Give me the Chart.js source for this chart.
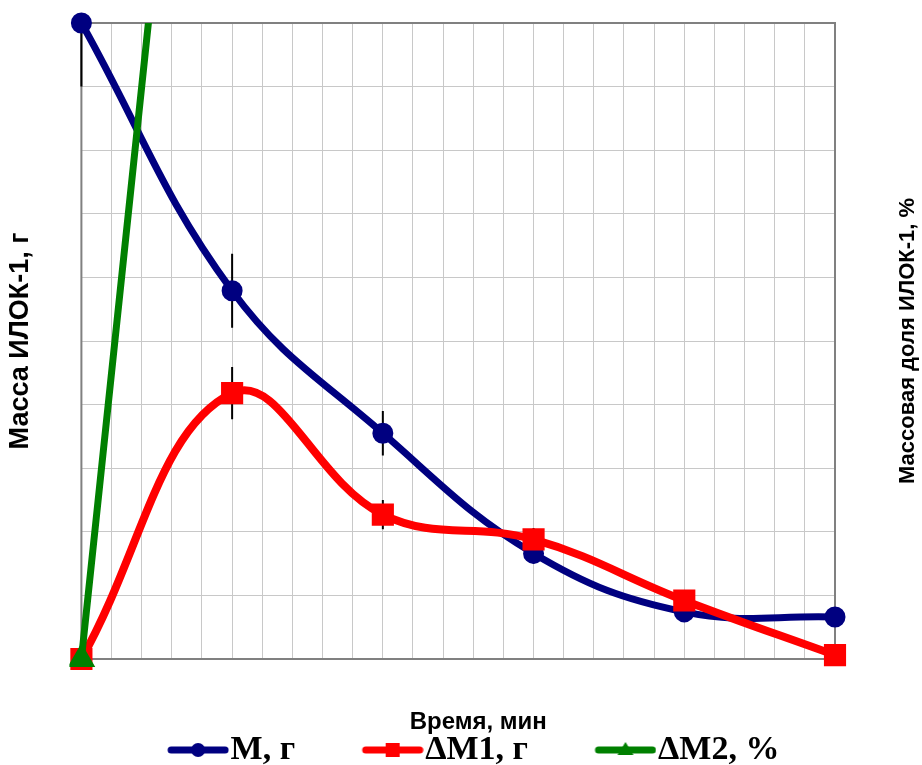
<!DOCTYPE html>
<html>
<head>
<meta charset="utf-8">
<script src="https://cdn.jsdelivr.net/npm/chart.js@4"></script>
<style>
  html, body { margin: 0; padding: 0; background: #fff; }
  #wrap { width: 922px; height: 765px; }
</style>
</head>
<body>
<div id="wrap"><canvas id="massChart" width="922" height="765"></canvas></div>
<script>
// время, мин (подписей на оси нет)
const timeMin = [0, 5, 10, 15, 20, 25];
// масса ИЛОК-1, г
const massM = [10, 5.79, 3.55, 1.66, 0.74, 0.66];
const deltaM1 = [0, 4.18, 2.27, 1.88, 0.92, 0.06];
// массовая доля, % (правая ось)
const deltaM2 = [0, 22.5, 40, 55, 65, 70];
// погрешности
const errM = [1.0, 0.58, 0.35, 0.16, 0, 0];
const errM1 = [0, 0.41, 0.23, 0.18, 0, 0];

const seriesNames = ["М, г", "ΔМ1, г", "ΔМ2, %"];
const seriesColors = ["#000080", "#ff0000", "#008000"];
const markerStyles = ["circle", "rect", "triangle"];

const toPoints = (ys) => ys.map((v, i) => ({x: timeMin[i], y: v}));

// картинки для легенды: линия + маркер
function legendIcon(color, style) {
    const c = document.createElement("canvas");
    c.width = 140; c.height = 22;
    const g = c.getContext("2d");
    g.strokeStyle = color; g.fillStyle = color;
    g.lineWidth = 7; g.lineCap = "round";
    g.beginPath(); g.moveTo(82, 11); g.lineTo(136, 11); g.stroke();
    g.beginPath();
    if (style === "circle") g.arc(109, 11, 7, 0, Math.PI * 2);
    else if (style === "rect") g.rect(102, 4, 14, 14);
    else { g.moveTo(109, 3); g.lineTo(117, 16); g.lineTo(101, 16); g.closePath(); }
    g.fill();
    return c;
}
const icons = seriesColors.map((c, i) => legendIcon(c, markerStyles[i]));

const errorBars = {
    id: "errorBars",
    beforeDatasetsDraw(chart) {
        const {ctx, chartArea: a, scales} = chart;
        ctx.save();
        ctx.strokeStyle = "#808080";
        ctx.lineWidth = 2;
        ctx.strokeRect(a.left, a.top, a.right - a.left, a.bottom - a.top);
        ctx.beginPath();
        ctx.rect(a.left - 2, a.top, a.right - a.left + 4, a.bottom - a.top);
        ctx.clip();
        ctx.strokeStyle = "#000";
        ctx.lineWidth = 2;
        [[massM, errM], [deltaM1, errM1]].forEach(([vals, errs]) => {
            vals.forEach((v, i) => {
                if (!errs[i]) return;
                const x = scales.x.getPixelForValue(timeMin[i]);
                ctx.beginPath();
                ctx.moveTo(x, scales.y.getPixelForValue(v + errs[i]));
                ctx.lineTo(x, scales.y.getPixelForValue(v - errs[i]));
                ctx.stroke();
            });
        });
        ctx.restore();
    },
    afterDraw(chart) {
        const {ctx, chartArea: a} = chart;
        ctx.save();
        ctx.fillStyle = "#000";
        ctx.textAlign = "center";
        ctx.textBaseline = "middle";
        ctx.font = "bold 24px 'Liberation Sans', Arial, sans-serif";
        ctx.fillText("Время, мин", (a.left + a.right) / 2 + 20, a.bottom + 63);
        ctx.translate(908, (a.top + a.bottom) / 2);
        ctx.rotate(-Math.PI / 2);
        ctx.font = "bold 22px 'Liberation Sans', Arial, sans-serif";
        ctx.fillText("Массовая доля ИЛОК-1, %", 0, 0);
        ctx.restore();
    }
};

const ctx = document.getElementById("massChart").getContext("2d");
const massChart = new Chart(ctx, {
    type: "line",
    data: {
        datasets: [{
            label: seriesNames[0],
            data: toPoints(massM),
            borderColor: seriesColors[0],
            backgroundColor: seriesColors[0],
            borderWidth: 7,
            pointStyle: markerStyles[0],
            pointRadius: 7,
            tension: 0.4,
            clip: false,
            order: 3,
            yAxisID: "y"
        }, {
            label: seriesNames[1],
            data: toPoints(deltaM1),
            borderColor: seriesColors[1],
            backgroundColor: seriesColors[1],
            borderWidth: 8,
            pointStyle: markerStyles[1],
            pointRadius: 10,
            tension: 0.4,
            clip: false,
            order: 2,
            yAxisID: "y"
        }, {
            label: seriesNames[2],
            data: toPoints(deltaM2),
            borderColor: seriesColors[2],
            backgroundColor: seriesColors[2],
            borderWidth: 7,
            pointStyle: markerStyles[2],
            pointRadius: 9,
            tension: 0,
            clip: {left: 12, right: 0, top: 0, bottom: 12},
            order: 1,
            yAxisID: "y2"
        }]
    },
    options: {
        responsive: false,
        animation: false,
        layout: {padding: {left: 0, right: 38, top: 23, bottom: -12}},
        scales: {
            x: {
                type: "linear",
                min: 0, max: 25,
                ticks: {display: false, stepSize: 1},
                grid: {color: "#c8c8c8", drawTicks: false},
                border: {display: false},
                afterFit(scale) { scale.height = 70; }
            },
            y: {
                min: 0, max: 10,
                ticks: {display: false, stepSize: 1},
                grid: {color: "#c8c8c8", drawTicks: false},
                border: {display: false},
                title: {
                    display: true,
                    text: "Масса ИЛОК-1, г",
                    color: "#000",
                    font: {family: "'Liberation Sans', Arial, sans-serif", size: 27, weight: "bold"},
                    padding: {top: 4, bottom: 45}
                }
            },
            y2: {
                position: "right",
                min: 0, max: 10,
                ticks: {display: false},
                grid: {display: false, drawTicks: false},
                border: {display: false},
                afterFit(scale) { scale.width = 49; }
            }
        },
        plugins: {
            tooltip: {enabled: false},
            legend: {
                position: "bottom",
                labels: {
                    usePointStyle: true,
                    pointStyleWidth: 109,
                    padding: 4,
                    color: "#000",
                    font: {family: "'Liberation Serif', 'Times New Roman', serif", size: 34, weight: "bold"},
                    sort: (a, b) => a.datasetIndex - b.datasetIndex,
                    generateLabels(chart) {
                        const items = Chart.defaults.plugins.legend.labels.generateLabels(chart);
                        items.forEach((it) => { it.pointStyle = icons[it.datasetIndex]; });
                        return items;
                    }
                }
            }
        }
    },
    plugins: [errorBars]
});
</script>
</body>
</html>
